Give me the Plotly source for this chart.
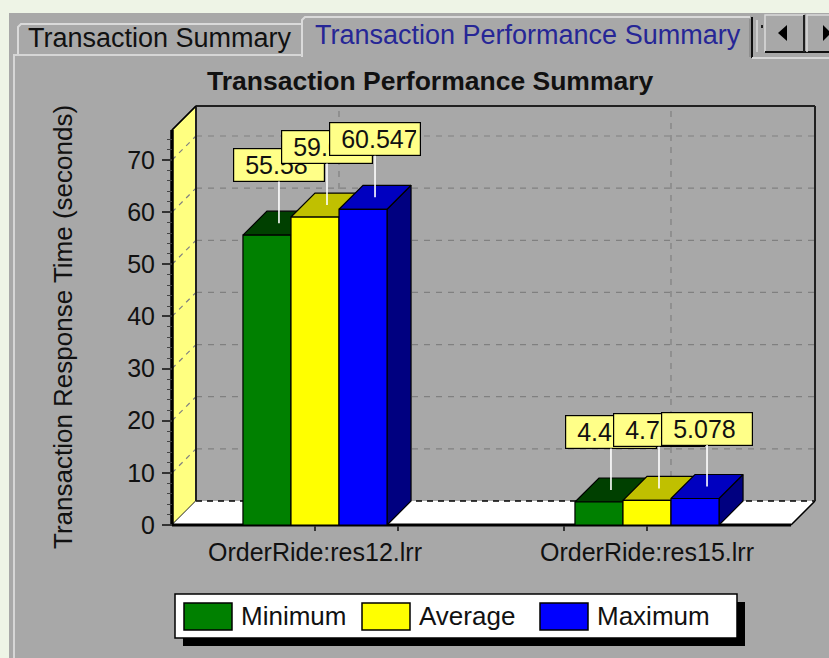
import plotly.graph_objects as go

# ---------------- data ----------------
categories = ["OrderRide:res12.lrr", "OrderRide:res15.lrr"]
series_names = ["Minimum", "Average", "Maximum"]
minimum_s = [55.58, 4.41]
average_s = [59.06, 4.72]
maximum_s = [60.547, 5.078]
y_tick_values = [0, 10, 20, 30, 40, 50, 60, 70]
tab_titles = ["Transaction Summary", "Transaction Performance Summary"]
chart_title = "Transaction Performance Summary"
y_title = "Transaction Response Time (seconds)"

series_values = [minimum_s, average_s, maximum_s]

# ---------------- styles ----------------
FONT = "Liberation Sans, Arial, sans-serif"
PANEL = "#a8a8a8"
OUTSIDE = "#eef4e6"
FRONT = ["#008000", "#ffff00", "#0000ff"]
TOP = ["#004000", "#c0c000", "#0000c0"]
SIDE = ["#003000", "#909000", "#000080"]
WALL = "#ffff80"
CALLOUT = "#ffff88"
GRID = "#808080"

W, H = 829, 658
AX_X = 172      # front edge of the value axis (px)
BACK_R = 815    # right edge of the back wall (px)
BACK_T = 106    # top edge of the back wall (px)
FLOOR_Y = 525   # value zero on the front plane (px)
DEPTH = 24      # oblique depth offset (px)
PAD = 6
X_ORIGIN = 315  # px of first category
X_SCALE = 332   # px per category step
Y_SCALE = 365 / 70  # px per unit of value
GROUP = 0.434   # fraction of a category step occupied by a bar group


def xd(px):
    return (px - X_ORIGIN) / X_SCALE


def yd(py):
    return (FLOOR_Y - py) / Y_SCALE


def paper(px, py):
    return px / W, 1 - py / H


X0, X1, YT = xd(AX_X), xd(BACK_R), yd(BACK_T)
dx, dy = DEPTH / X_SCALE, DEPTH / Y_SCALE
bw = GROUP / len(series_names)

fig = go.Figure()


def poly(pts, fill, lw=1.2, lc="black"):
    xs = [p[0] for p in pts] + [pts[0][0]]
    ys = [p[1] for p in pts] + [pts[0][1]]
    fig.add_trace(go.Scatter(x=xs, y=ys, mode="lines", fill="toself", fillcolor=fill,
                             line=dict(color=lc, width=lw), hoverinfo="skip", showlegend=False))


def lines(segs, color, width, dash="solid"):
    xs, ys = [], []
    for (a, b) in segs:
        xs += [a[0], b[0], None]
        ys += [a[1], b[1], None]
    fig.add_trace(go.Scatter(x=xs, y=ys, mode="lines", line=dict(color=color, width=width, dash=dash),
                             hoverinfo="skip", showlegend=False))


grid_vals = [v for v in y_tick_values if v > 0]

# back wall grid
lines([((X0 + dx, v + dy), (X1, v + dy)) for v in grid_vals], GRID, 1.2, "6px,6px")
lines([((c + dx, dy), (c + dx, YT)) for c in range(len(categories))], GRID, 1.2, "6px,6px")

# left wall
poly([(X0, 0), (X0 + dx, dy), (X0 + dx, YT), (X0, YT - dy)], WALL, 1.2)
lines([((X0, v), (X0 + dx, v + dy)) for v in grid_vals], GRID, 1.2, "5px,5px")

# floor
poly([(X0, 0), (X1 - dx, 0), (X1, dy), (X0 + dx, dy)], "white", 0, "rgba(0,0,0,0)")
lines([((X0 + dx, dy), (X1, dy))], "black", 1.5, "6px,5px")
lines([((X1 - dx, 0), (X1, dy))], "black", 1.5)
lines([((X0, 0), (X1 - dx, 0))], "black", 3)

# back wall border and front axis edge
lines([((X0 + dx, dy), (X0 + dx, YT)), ((X0 + dx, YT), (X1, YT)), ((X1, YT), (X1, dy))], "#202020", 2)
lines([((X0, 0), (X0, YT - dy))], "black", 3.5)
lines([((X0, YT - dy), (X0 + dx, YT))], "black", 1.5)

# 3-D bars, drawn left to right so each front face hides the previous side face
for j in range(len(categories)):
    for i, vals in enumerate(series_values):
        v = vals[j]
        left = j - GROUP / 2 + i * bw
        right = left + bw
        poly([(right, 0), (right + dx, dy), (right + dx, v + dy), (right, v)], SIDE[i])
        poly([(left, v), (right, v), (right + dx, v + dy), (left + dx, v + dy)], TOP[i])
        poly([(left, 0), (right, 0), (right, v), (left, v)], FRONT[i])

annotations = []
# value callouts
for j in range(len(categories)):
    for i, vals in enumerate(series_values):
        v = vals[j]
        cx = j - GROUP / 2 + (i + 0.5) * bw
        annotations.append(dict(
            x=cx + dx / 2, y=v + dy / 2, xref="x", yref="y",
            text="\u00a0" + f"{v:g}", showarrow=True, arrowhead=0, arrowwidth=1.6,
            arrowcolor="white", ax=0, ay=-58, align="left", width=82, height=24,
            bgcolor=CALLOUT, bordercolor="black", borderwidth=1.2, borderpad=4,
            font=dict(family=FONT, size=25, color="#111")))

# chrome: tabs, panel, titles, legend
shapes = []


def rect(x0, y0, x1, y1, fill, line="rgba(0,0,0,0)", lw=0, layer="below"):
    a, b = paper(x0, y0)
    c, d = paper(x1, y1)
    shapes.append(dict(type="rect", xref="paper", yref="paper", x0=a, y0=b, x1=c, y1=d,
                       fillcolor=fill, line=dict(color=line, width=lw), layer=layer))


def path(pts, color, lw, fill=None, close=False, layer="below"):
    s = ""
    for k, (px, py) in enumerate(pts):
        a, b = paper(px, py)
        s += ("M" if k == 0 else "L") + f"{a:.5f},{b:.5f} "
    if close:
        s += "Z"
    shapes.append(dict(type="path", xref="paper", yref="paper", path=s,
                       line=dict(color=color, width=lw), fillcolor=fill or "rgba(0,0,0,0)", layer=layer))


rect(9, 13, W + 2, H + 2, PANEL)
# inactive tab
path([(18, 55), (18, 27), (21, 24), (302, 24)], "#dadada", 2)
# active tab
path([(302, 57), (302, 20), (305, 17), (750, 17)], "#dadada", 2)
path([(750, 19), (750, 57)], "#7a7a7a", 1)
path([(752, 17), (752, 58)], "#101010", 2)
# panel border
path([(14, H), (14, 55), (302, 55)], "#d6d6d6", 2)
path([(752, 58), (W, 58)], "#d6d6d6", 2)
# scroll buttons
path([(757, 52), (757, 20)], "#dadada", 1.5)
rect(761, 25, 763, 28, "#202020")
path([(765, 52), (765, 15), (804, 15)], "#dadada", 1.5)
path([(765, 52), (829, 52)], "#101010", 2)
path([(804, 15), (804, 52)], "#202020", 2)
path([(807, 52), (807, 15), (829, 15)], "#dadada", 1.5)
path([(787, 25), (787, 41), (778, 33)], "black", 0, fill="black", close=True)
path([(823, 25), (823, 41), (831, 33)], "black", 0, fill="black", close=True)

tab_pos = [(160, 38, "#111111"), (528, 35, "#262696")]
for (tx, ty, tc), t in zip(tab_pos, tab_titles):
    a, b = paper(tx, ty)
    annotations.append(dict(x=a, y=b, xref="paper", yref="paper", text=t, showarrow=False,
                            xanchor="center", yanchor="middle", font=dict(family=FONT, size=27, color=tc)))

a, b = paper(430, 81)
annotations.append(dict(x=a, y=b, xref="paper", yref="paper", text=f"<b>{chart_title}</b>",
                        showarrow=False, xanchor="center", yanchor="middle",
                        font=dict(family=FONT, size=26.5, color="#111")))
a, b = paper(63, 327)
annotations.append(dict(x=a, y=b, xref="paper", yref="paper", text=y_title, textangle=-90,
                        showarrow=False, xanchor="center", yanchor="middle",
                        font=dict(family=FONT, size=26, color="#111")))

# legend
rect(183, 602, 745, 646, "black", layer="above")
rect(175, 594, 737, 638, "white", "black", 1.5, layer="above")
for i, name in enumerate(series_names):
    sx = 184 + 178 * i
    rect(sx, 603, sx + 48, 630, FRONT[i], "black", 1.5, layer="above")
    a, b = paper(sx + 55, 616)
    annotations.append(dict(x=a, y=b, xref="paper", yref="paper", text=name, showarrow=False,
                            xanchor="left", yanchor="middle", font=dict(family=FONT, size=26, color="#111")))

minor_y = [v for v in range(2, 76, 2) if v % 10 != 0]

fig.update_layout(
    width=W, height=H, margin=dict(l=0, r=0, t=0, b=0, autoexpand=False),
    paper_bgcolor=OUTSIDE, plot_bgcolor="rgba(0,0,0,0)",
    showlegend=False, shapes=shapes, annotations=annotations,
    xaxis=dict(domain=[(AX_X - PAD) / W, (BACK_R + PAD) / W], range=[xd(AX_X - PAD), xd(BACK_R + PAD)],
               anchor="free", position=(H - FLOOR_Y) / H, automargin=False,
               tickvals=list(range(len(categories))), ticktext=categories, ticks="outside",
               ticklen=5, tickwidth=1.5, tickcolor="#333", showgrid=False, zeroline=False, showline=False,
               minor=dict(tickvals=[0.25, 0.75], ticklen=5, tickwidth=1.5, tickcolor="#333", ticks="outside"),
               tickfont=dict(family=FONT, size=25, color="#111"), ticklabelstandoff=0, fixedrange=True),
    yaxis=dict(domain=[(H - FLOOR_Y - PAD) / H, (H - BACK_T + PAD) / H], range=[yd(FLOOR_Y + PAD), yd(BACK_T - PAD)],
               anchor="free", position=AX_X / W, automargin=False,
               tickvals=y_tick_values, ticks="outside", ticklen=10, tickwidth=1.5, tickcolor="#333",
               minor=dict(tickvals=minor_y, ticklen=5, tickwidth=1, tickcolor="#444", ticks="outside"),
               showgrid=False, zeroline=False, showline=False,
               tickfont=dict(family=FONT, size=25, color="#111"), ticklabelstandoff=2, fixedrange=True),
)

fig.write_html("out.html")
